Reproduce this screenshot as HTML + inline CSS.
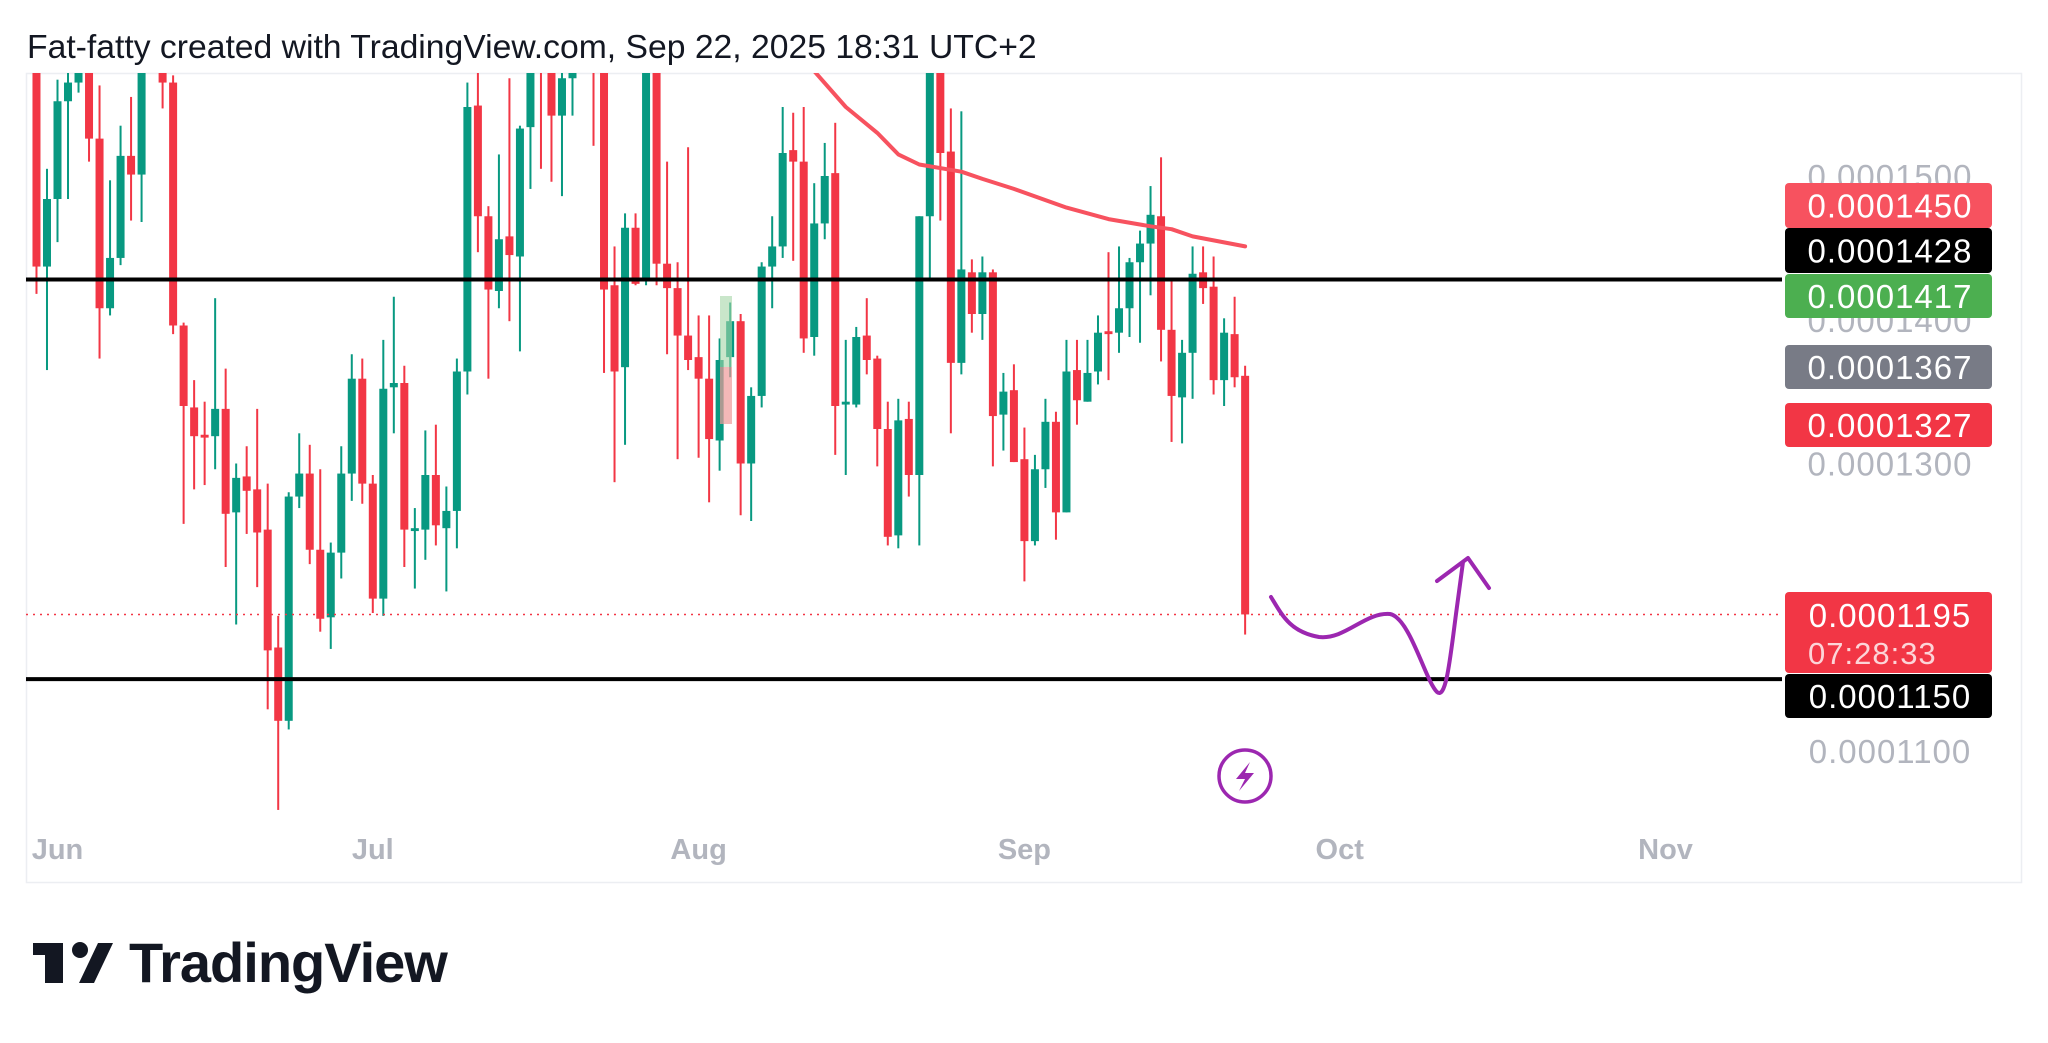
<!DOCTYPE html>
<html><head><meta charset="utf-8"><style>
html,body{margin:0;padding:0;background:#fff;}
svg{display:block;font-family:"Liberation Sans",sans-serif;}
</style></head><body>
<svg id="chart" width="2048" height="1043" viewBox="0 0 2048 1043" xmlns="http://www.w3.org/2000/svg">
<defs><clipPath id="pane"><rect x="26" y="73" width="1756" height="750"/></clipPath></defs>
<text x="27" y="58" font-size="33.7" fill="#131722">Fat-fatty created with TradingView.com, Sep 22, 2025 18:31 UTC+2</text>
<rect x="26.5" y="73.5" width="1995" height="809" fill="none" stroke="#eceef2" stroke-width="1.5"/>
<g id="candles" clip-path="url(#pane)"></g>
<g id="overlay" clip-path="url(#pane)"></g>
<g id="axis"></g>
<g>
<rect x="33" y="943" width="30" height="12" fill="#131722"/>
<rect x="45" y="943" width="18" height="40" fill="#131722"/>
<circle cx="80" cy="950" r="8" fill="#131722"/>
<polygon points="98,943 113,943 94,983 79,983" fill="#131722"/>
<text x="129" y="982" font-size="56" font-weight="bold" fill="#131722" letter-spacing="-1">TradingView</text>
</g>
</svg>
<script>
const days=[];for(let i=0;i<116;i++){days.push(i-2);}
const opens=[15.9,14.37,14.84,15.52,15.65,15.80,15.26,14.08,14.43,15.14,15.01,15.85,15.95,15.65,13.96,13.39,13.20,13.19,13.38,12.66,12.91,12.82,12.54,11.72,11.21,12.77,12.93,12.40,11.93,12.38,12.93,13.59,12.86,12.06,13.53,13.56,12.53,12.54,12.92,12.55,12.67,13.64,15.49,14.72,14.20,14.58,14.44,15.34,15.95,15.80,15.42,15.68,15.8,16.1,15.9,14.24,13.67,14.64,14.28,15.85,14.39,14.22,13.89,13.74,13.59,13.16,13.74,13.99,13.00,13.47,14.37,14.51,15.18,15.10,13.88,14.67,15.02,13.41,13.41,13.89,13.73,13.24,12.50,13.31,12.92,14.72,15.85,15.17,13.70,14.33,14.04,14.33,13.34,13.51,13.03,12.46,12.96,13.29,12.66,13.65,13.43,13.64,13.92,13.91,14.08,14.40,14.53,14.72,13.93,13.46,13.77,14.33,14.23,13.58,13.90,13.61];
const highs=[16.0,15.05,15.67,15.74,15.80,15.85,15.63,14.97,15.35,15.55,15.95,16.0,16.0,15.70,13.98,13.58,13.43,14.15,13.66,13.00,13.12,13.38,12.86,11.94,12.80,13.21,13.13,12.96,12.45,13.12,13.76,13.73,12.92,13.86,14.16,13.68,12.69,13.23,13.27,12.84,13.73,15.65,15.80,14.79,15.15,15.68,15.35,15.85,16.0,15.9,15.74,15.80,16.1,16.2,16.0,14.51,14.74,14.74,15.95,15.95,15.10,14.40,15.20,14.03,14.03,13.87,14.12,14.04,13.53,14.40,14.72,15.48,15.44,15.48,14.95,15.23,15.37,13.86,13.95,14.15,13.75,13.43,13.45,13.43,14.72,15.95,15.95,15.47,15.45,14.42,14.44,14.35,13.63,13.69,13.25,13.06,13.45,13.36,13.86,13.86,13.86,14.03,14.47,14.51,14.43,14.62,14.93,15.13,14.27,13.86,14.51,14.51,14.44,14.01,14.16,13.68];
const lows=[14.18,13.65,14.54,14.84,15.58,15.10,13.73,14.03,14.38,14.69,14.68,15.73,15.47,13.90,12.58,12.82,12.85,12.96,12.28,11.88,12.51,12.14,11.29,10.59,11.15,12.69,12.30,11.83,11.71,12.20,12.74,12.72,11.96,11.94,13.21,12.28,12.13,12.33,12.43,12.11,12.41,13.48,14.47,13.59,14.08,13.99,13.78,14.91,15.05,14.96,14.86,15.42,15.76,15.21,13.63,12.87,13.13,14.24,14.24,14.24,13.76,13.03,13.65,13.04,12.73,12.95,13.60,12.64,12.60,13.39,14.08,14.43,14.41,13.77,13.75,14.56,13.06,12.92,13.39,13.62,12.98,12.43,12.41,12.77,12.43,14.27,14.69,13.21,13.62,13.91,13.86,12.98,13.09,13.01,12.18,12.43,12.83,12.47,12.66,13.27,13.43,13.55,13.58,13.77,13.88,13.84,14.17,13.71,13.15,13.14,13.45,14.11,13.48,13.40,13.53,11.81];
const closes=[14.37,14.84,15.52,15.65,15.76,15.26,14.08,14.43,15.14,15.01,15.85,15.95,15.65,13.96,13.40,13.19,13.18,13.38,12.65,12.90,12.81,12.52,11.70,11.21,12.77,12.93,12.40,11.92,12.38,12.93,13.59,12.86,12.06,13.52,13.56,12.54,12.55,12.92,12.57,12.67,13.64,15.48,14.72,14.21,14.56,14.45,15.33,15.74,15.80,15.42,15.68,15.74,16.0,15.9,14.21,13.64,14.64,14.25,15.85,14.39,14.22,13.89,13.72,13.59,13.17,13.72,13.99,13.00,13.47,14.37,14.51,15.16,15.10,13.87,14.67,15.00,13.40,13.43,13.88,13.72,13.24,12.49,13.30,12.92,14.72,15.85,15.16,13.70,14.35,14.04,14.33,13.33,13.50,13.01,12.46,12.96,13.29,12.66,13.64,13.44,13.63,13.91,13.90,14.08,14.40,14.53,14.73,13.93,13.47,13.77,14.32,14.22,13.58,13.91,13.60,11.95];
const maDays=[70.5,72,75,78,80,82,86,88,91,96,100,104,106,108,113];
const maValues=[16.0,15.73,15.48,15.30,15.15,15.08,15.03,14.98,14.91,14.78,14.70,14.65,14.63,14.58,14.51];
const monthLabels=["Jun","Jul","Aug","Sep","Oct","Nov"];
const monthDays=[0,30,61,92,122,153];
const levelPrices=[14.28,11.50];
const lastPrice=11.95;
const axisTicks=[15.0,14.0,13.0,11.0];
const tickText=["0.0001500","0.0001400","0.0001300","0.0001100"];

const NS="http://www.w3.org/2000/svg";
function xS(d){return 57.5+d*10.51;}
function yS(p){return 176+(15-p)*143.75;}
function mk(tag,attrs,parent){const e=document.createElementNS(NS,tag);for(const k in attrs)e.setAttribute(k,attrs[k]);parent.appendChild(e);return e;}
const cg=document.getElementById('candles'),og=document.getElementById('overlay'),ag=document.getElementById('axis');

levelPrices.forEach(p=>{
 const l=mk('line',{x1:26,x2:1784,y1:yS(p),y2:yS(p),stroke:'#000','stroke-width':4},og);
 
 
});
const dl=mk('line',{x1:26,x2:1784,y1:yS(lastPrice),y2:yS(lastPrice),stroke:'#f23645','stroke-width':1.5,'stroke-dasharray':'2 5'},og);



const pm1=mk('rect',{x:720,y:296,width:12,height:71,fill:'#a5d6a7','fill-opacity':0.6},og);


const pm2=mk('rect',{x:720,y:367,width:12,height:57,fill:'#ef9a9a','fill-opacity':0.7},og);



for(let i=0;i<days.length;i++){
 const x=xS(days[i]);const up=closes[i]>=opens[i];const col=up?'#089981':'#f23645';
 const g=mk('g',{},cg);
 
 
 mk('rect',{x:x-1,y:yS(highs[i]),width:2,height:Math.max(1,yS(lows[i])-yS(highs[i])),fill:col},g);
 const t=yS(Math.max(opens[i],closes[i])),b=yS(Math.min(opens[i],closes[i]));
 mk('rect',{x:x-4,y:t,width:8,height:Math.max(2,b-t),fill:col},g);
}
let d='';maDays.forEach((dd,k)=>{d+=(k?'L':'M')+xS(dd).toFixed(1)+','+yS(maValues[k]).toFixed(1);});
const ma=mk('path',{d:d,fill:'none',stroke:'#f7525f','stroke-width':4,'stroke-linejoin':'round','stroke-linecap':'round'},og);



const dr=mk('path',{d:'M1271,597 C1282,615 1290,632 1319,637 C1345,640 1365,612 1390,614 C1410,618 1425,680 1437,692 C1446,700 1450,660 1456,614 L1463,562 M1437,581 L1468,558 L1489,588',fill:'none',stroke:'#9c27b0','stroke-width':4,'stroke-linecap':'round','stroke-linejoin':'round'},ag);


const ic=mk('g',{},ag);


mk('circle',{cx:1245,cy:776,r:26,fill:'#fff',stroke:'#9c27b0','stroke-width':3.5},ic);
mk('polygon',{points:'1250,762 1236,779 1245,779 1239,791 1254,773 1245,773',fill:'#9c27b0'},ic);

monthLabels.forEach((m,k)=>{
 const t=mk('text',{x:xS(monthDays[k]),y:859,'text-anchor':'middle','font-size':29,'font-weight':'bold',fill:'#b2b5be'},ag);
 t.textContent=m;
 
 
});
axisTicks.forEach((p,k)=>{
 const t=mk('text',{x:1890,y:yS(p)+12,'text-anchor':'middle','font-size':33,fill:'#b2b5be','letter-spacing':1},ag);
 t.textContent=tickText[k];
 
 
});
const badges=[["0.0001450",183,45,'#f7525f'],["0.0001428",228,45,'#000000'],["0.0001417",274,44,'#4caf50'],["0.0001367",345,44,'#787b86'],["0.0001327",403,44,'#f23645'],["0.0001150",674,44,'#000000']];
badges.forEach(b=>{
 const g=mk('g',{},ag);
 
 
 mk('rect',{x:1785,y:b[1],width:207,height:b[2],rx:4,fill:b[3]},g);
 const t=mk('text',{x:1890,y:b[1]+b[2]/2+12,'text-anchor':'middle','font-size':33,fill:'#fff','letter-spacing':1},g);
 t.textContent=b[0];
});
const lp=mk('g',{},ag);


mk('rect',{x:1785,y:592,width:207,height:81,rx:4,fill:'#f23645'},lp);
const t1=mk('text',{x:1890,y:627,'text-anchor':'middle','font-size':33,fill:'#fff','letter-spacing':1},lp);t1.textContent="0.0001195";
const t2=mk('text',{x:1808,y:664,'font-size':31,fill:'#fcd5d8','letter-spacing':1},lp);t2.textContent="07:28:33";
</script>
</body></html>
